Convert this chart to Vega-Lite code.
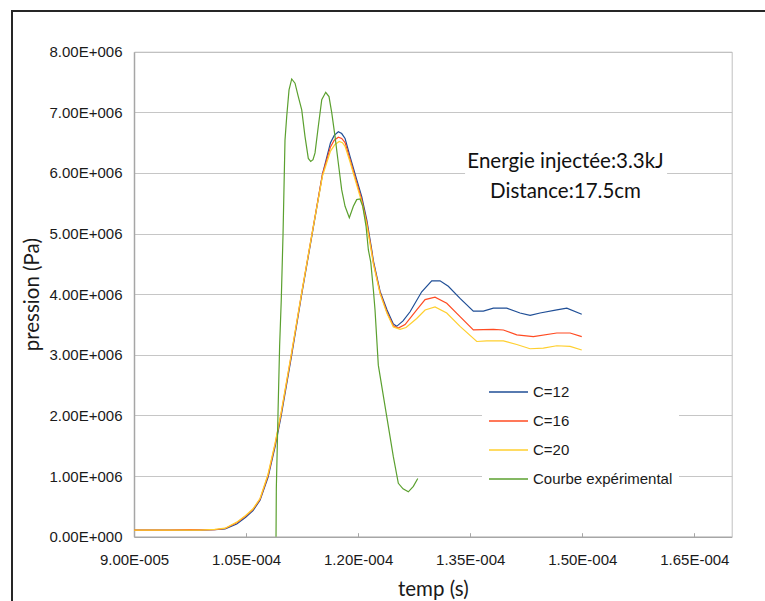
{
  "$schema": "https://vega.github.io/schema/vega-lite/v6.json",
  "width": 755,
  "height": 592,
  "autosize": {"type": "none"},
  "padding": {"left": 12, "top": 11, "right": -2, "bottom": -2},
  "background": "white",
  "config": {
    "view": {"stroke": "#262626", "strokeWidth": 2},
    "axis": {
      "labelFont": "Liberation Sans",
      "labelFontSize": 15,
      "labelColor": "#1a1a1a",
      "titleFont": "Lato",
      "titleFontSize": 20.5,
      "titleFontWeight": "normal",
      "titleColor": "#1a1a1a"
    },
    "legend": {
      "orient": "none",
      "legendX": 470,
      "legendY": 354.5,
      "fillColor": "white",
      "padding": 6,
      "symbolType": "stroke",
      "symbolSize": 1521,
      "symbolStrokeWidth": 1.5,
      "labelFont": "Liberation Sans",
      "labelFontSize": 15,
      "labelColor": "#1a1a1a",
      "labelOffset": 4,
      "labelLimit": 300,
      "rowPadding": -11.3
    }
  },
  "datasets": {
    "curves": [
      {"serie": "C=12", "temps": 9.0e-5, "pression": 110000},
      {"serie": "C=12", "temps": 9.48e-5, "pression": 110000},
      {"serie": "C=12", "temps": 9.88e-5, "pression": 110000},
      {"serie": "C=12", "temps": 1.008e-4, "pression": 115000},
      {"serie": "C=12", "temps": 1.022e-4, "pression": 130000},
      {"serie": "C=12", "temps": 1.0375e-4, "pression": 210000},
      {"serie": "C=12", "temps": 1.0495e-4, "pression": 320000},
      {"serie": "C=12", "temps": 1.0593e-4, "pression": 430000},
      {"serie": "C=12", "temps": 1.0687e-4, "pression": 600000},
      {"serie": "C=12", "temps": 1.0794e-4, "pression": 980000},
      {"serie": "C=12", "temps": 1.0888e-4, "pression": 1480000},
      {"serie": "C=12", "temps": 1.0968e-4, "pression": 1980000},
      {"serie": "C=12", "temps": 1.1108e-4, "pression": 2980000},
      {"serie": "C=12", "temps": 1.1242e-4, "pression": 3980000},
      {"serie": "C=12", "temps": 1.1383e-4, "pression": 4980000},
      {"serie": "C=12", "temps": 1.1523e-4, "pression": 5980000},
      {"serie": "C=12", "temps": 1.163e-4, "pression": 6500000},
      {"serie": "C=12", "temps": 1.168e-4, "pression": 6620000},
      {"serie": "C=12", "temps": 1.1735e-4, "pression": 6680000},
      {"serie": "C=12", "temps": 1.178e-4, "pression": 6650000},
      {"serie": "C=12", "temps": 1.1825e-4, "pression": 6570000},
      {"serie": "C=12", "temps": 1.1892e-4, "pression": 6270000},
      {"serie": "C=12", "temps": 1.1981e-4, "pression": 5890000},
      {"serie": "C=12", "temps": 1.2048e-4, "pression": 5610000},
      {"serie": "C=12", "temps": 1.2115e-4, "pression": 5230000},
      {"serie": "C=12", "temps": 1.2182e-4, "pression": 4730000},
      {"serie": "C=12", "temps": 1.2204e-4, "pression": 4550000},
      {"serie": "C=12", "temps": 1.2293e-4, "pression": 4050000},
      {"serie": "C=12", "temps": 1.2387e-4, "pression": 3740000},
      {"serie": "C=12", "temps": 1.2471e-4, "pression": 3510000},
      {"serie": "C=12", "temps": 1.2516e-4, "pression": 3470000},
      {"serie": "C=12", "temps": 1.2601e-4, "pression": 3560000},
      {"serie": "C=12", "temps": 1.2695e-4, "pression": 3710000},
      {"serie": "C=12", "temps": 1.2851e-4, "pression": 4040000},
      {"serie": "C=12", "temps": 1.2985e-4, "pression": 4220000},
      {"serie": "C=12", "temps": 1.3096e-4, "pression": 4220000},
      {"serie": "C=12", "temps": 1.3207e-4, "pression": 4130000},
      {"serie": "C=12", "temps": 1.3364e-4, "pression": 3930000},
      {"serie": "C=12", "temps": 1.3542e-4, "pression": 3720000},
      {"serie": "C=12", "temps": 1.3676e-4, "pression": 3720000},
      {"serie": "C=12", "temps": 1.381e-4, "pression": 3770000},
      {"serie": "C=12", "temps": 1.3989e-4, "pression": 3770000},
      {"serie": "C=12", "temps": 1.4167e-4, "pression": 3690000},
      {"serie": "C=12", "temps": 1.4301e-4, "pression": 3650000},
      {"serie": "C=12", "temps": 1.4435e-4, "pression": 3690000},
      {"serie": "C=12", "temps": 1.4659e-4, "pression": 3740000},
      {"serie": "C=12", "temps": 1.4793e-4, "pression": 3770000},
      {"serie": "C=12", "temps": 1.4993e-4, "pression": 3670000},

      {"serie": "C=16", "temps": 9.0e-5, "pression": 110000},
      {"serie": "C=16", "temps": 9.48e-5, "pression": 110000},
      {"serie": "C=16", "temps": 9.75e-5, "pression": 118000},
      {"serie": "C=16", "temps": 9.88e-5, "pression": 112000},
      {"serie": "C=16", "temps": 1.008e-4, "pression": 115000},
      {"serie": "C=16", "temps": 1.022e-4, "pression": 135000},
      {"serie": "C=16", "temps": 1.0375e-4, "pression": 230000},
      {"serie": "C=16", "temps": 1.0495e-4, "pression": 340000},
      {"serie": "C=16", "temps": 1.0593e-4, "pression": 450000},
      {"serie": "C=16", "temps": 1.0687e-4, "pression": 620000},
      {"serie": "C=16", "temps": 1.0794e-4, "pression": 1010000},
      {"serie": "C=16", "temps": 1.0888e-4, "pression": 1520000},
      {"serie": "C=16", "temps": 1.0968e-4, "pression": 2020000},
      {"serie": "C=16", "temps": 1.1108e-4, "pression": 3010000},
      {"serie": "C=16", "temps": 1.1242e-4, "pression": 4000000},
      {"serie": "C=16", "temps": 1.1383e-4, "pression": 5000000},
      {"serie": "C=16", "temps": 1.1523e-4, "pression": 5980000},
      {"serie": "C=16", "temps": 1.163e-4, "pression": 6430000},
      {"serie": "C=16", "temps": 1.168e-4, "pression": 6540000},
      {"serie": "C=16", "temps": 1.1735e-4, "pression": 6590000},
      {"serie": "C=16", "temps": 1.178e-4, "pression": 6570000},
      {"serie": "C=16", "temps": 1.1825e-4, "pression": 6500000},
      {"serie": "C=16", "temps": 1.1892e-4, "pression": 6220000},
      {"serie": "C=16", "temps": 1.1981e-4, "pression": 5840000},
      {"serie": "C=16", "temps": 1.2048e-4, "pression": 5560000},
      {"serie": "C=16", "temps": 1.2115e-4, "pression": 5190000},
      {"serie": "C=16", "temps": 1.2182e-4, "pression": 4700000},
      {"serie": "C=16", "temps": 1.2204e-4, "pression": 4520000},
      {"serie": "C=16", "temps": 1.2293e-4, "pression": 4030000},
      {"serie": "C=16", "temps": 1.2387e-4, "pression": 3700000},
      {"serie": "C=16", "temps": 1.2471e-4, "pression": 3480000},
      {"serie": "C=16", "temps": 1.2538e-4, "pression": 3440000},
      {"serie": "C=16", "temps": 1.2628e-4, "pression": 3500000},
      {"serie": "C=16", "temps": 1.2784e-4, "pression": 3740000},
      {"serie": "C=16", "temps": 1.2896e-4, "pression": 3910000},
      {"serie": "C=16", "temps": 1.3029e-4, "pression": 3950000},
      {"serie": "C=16", "temps": 1.3186e-4, "pression": 3850000},
      {"serie": "C=16", "temps": 1.3364e-4, "pression": 3630000},
      {"serie": "C=16", "temps": 1.3542e-4, "pression": 3410000},
      {"serie": "C=16", "temps": 1.381e-4, "pression": 3420000},
      {"serie": "C=16", "temps": 1.3944e-4, "pression": 3410000},
      {"serie": "C=16", "temps": 1.4123e-4, "pression": 3330000},
      {"serie": "C=16", "temps": 1.4345e-4, "pression": 3300000},
      {"serie": "C=16", "temps": 1.4659e-4, "pression": 3360000},
      {"serie": "C=16", "temps": 1.4837e-4, "pression": 3360000},
      {"serie": "C=16", "temps": 1.4993e-4, "pression": 3300000},

      {"serie": "C=20", "temps": 9.0e-5, "pression": 110000},
      {"serie": "C=20", "temps": 9.48e-5, "pression": 110000},
      {"serie": "C=20", "temps": 9.88e-5, "pression": 110000},
      {"serie": "C=20", "temps": 1.008e-4, "pression": 120000},
      {"serie": "C=20", "temps": 1.022e-4, "pression": 140000},
      {"serie": "C=20", "temps": 1.0375e-4, "pression": 240000},
      {"serie": "C=20", "temps": 1.0495e-4, "pression": 350000},
      {"serie": "C=20", "temps": 1.0593e-4, "pression": 460000},
      {"serie": "C=20", "temps": 1.0687e-4, "pression": 630000},
      {"serie": "C=20", "temps": 1.0794e-4, "pression": 1030000},
      {"serie": "C=20", "temps": 1.0888e-4, "pression": 1540000},
      {"serie": "C=20", "temps": 1.0968e-4, "pression": 2040000},
      {"serie": "C=20", "temps": 1.1108e-4, "pression": 3030000},
      {"serie": "C=20", "temps": 1.1242e-4, "pression": 4010000},
      {"serie": "C=20", "temps": 1.1383e-4, "pression": 5000000},
      {"serie": "C=20", "temps": 1.1523e-4, "pression": 5950000},
      {"serie": "C=20", "temps": 1.163e-4, "pression": 6360000},
      {"serie": "C=20", "temps": 1.169e-4, "pression": 6470000},
      {"serie": "C=20", "temps": 1.1747e-4, "pression": 6520000},
      {"serie": "C=20", "temps": 1.179e-4, "pression": 6500000},
      {"serie": "C=20", "temps": 1.1825e-4, "pression": 6440000},
      {"serie": "C=20", "temps": 1.1892e-4, "pression": 6180000},
      {"serie": "C=20", "temps": 1.1981e-4, "pression": 5800000},
      {"serie": "C=20", "temps": 1.2048e-4, "pression": 5520000},
      {"serie": "C=20", "temps": 1.2115e-4, "pression": 5150000},
      {"serie": "C=20", "temps": 1.2182e-4, "pression": 4670000},
      {"serie": "C=20", "temps": 1.2204e-4, "pression": 4500000},
      {"serie": "C=20", "temps": 1.2293e-4, "pression": 4010000},
      {"serie": "C=20", "temps": 1.2387e-4, "pression": 3680000},
      {"serie": "C=20", "temps": 1.2471e-4, "pression": 3460000},
      {"serie": "C=20", "temps": 1.2561e-4, "pression": 3420000},
      {"serie": "C=20", "temps": 1.2641e-4, "pression": 3450000},
      {"serie": "C=20", "temps": 1.2784e-4, "pression": 3600000},
      {"serie": "C=20", "temps": 1.2896e-4, "pression": 3740000},
      {"serie": "C=20", "temps": 1.3029e-4, "pression": 3790000},
      {"serie": "C=20", "temps": 1.3186e-4, "pression": 3690000},
      {"serie": "C=20", "temps": 1.3364e-4, "pression": 3470000},
      {"serie": "C=20", "temps": 1.3588e-4, "pression": 3220000},
      {"serie": "C=20", "temps": 1.3722e-4, "pression": 3230000},
      {"serie": "C=20", "temps": 1.3944e-4, "pression": 3230000},
      {"serie": "C=20", "temps": 1.4123e-4, "pression": 3170000},
      {"serie": "C=20", "temps": 1.4301e-4, "pression": 3100000},
      {"serie": "C=20", "temps": 1.4479e-4, "pression": 3110000},
      {"serie": "C=20", "temps": 1.4659e-4, "pression": 3150000},
      {"serie": "C=20", "temps": 1.4837e-4, "pression": 3140000},
      {"serie": "C=20", "temps": 1.4993e-4, "pression": 3080000},

      {"serie": "Courbe expérimental", "temps": 1.0901e-4, "pression": 0},
      {"serie": "Courbe expérimental", "temps": 1.0905e-4, "pression": 800000},
      {"serie": "Courbe expérimental", "temps": 1.0928e-4, "pression": 2060000},
      {"serie": "Courbe expérimental", "temps": 1.0949e-4, "pression": 3140000},
      {"serie": "Courbe expérimental", "temps": 1.0971e-4, "pression": 3900000},
      {"serie": "Courbe expérimental", "temps": 1.0995e-4, "pression": 5000000},
      {"serie": "Courbe expérimental", "temps": 1.1021e-4, "pression": 6540000},
      {"serie": "Courbe expérimental", "temps": 1.1044e-4, "pression": 6930000},
      {"serie": "Courbe expérimental", "temps": 1.1075e-4, "pression": 7370000},
      {"serie": "Courbe expérimental", "temps": 1.1111e-4, "pression": 7550000},
      {"serie": "Courbe expérimental", "temps": 1.1155e-4, "pression": 7480000},
      {"serie": "Courbe expérimental", "temps": 1.1199e-4, "pression": 7260000},
      {"serie": "Courbe expérimental", "temps": 1.1245e-4, "pression": 7040000},
      {"serie": "Courbe expérimental", "temps": 1.1289e-4, "pression": 6600000},
      {"serie": "Courbe expérimental", "temps": 1.1333e-4, "pression": 6240000},
      {"serie": "Courbe expérimental", "temps": 1.1365e-4, "pression": 6190000},
      {"serie": "Courbe expérimental", "temps": 1.1396e-4, "pression": 6220000},
      {"serie": "Courbe expérimental", "temps": 1.1423e-4, "pression": 6330000},
      {"serie": "Courbe expérimental", "temps": 1.1467e-4, "pression": 6770000},
      {"serie": "Courbe expérimental", "temps": 1.1513e-4, "pression": 7210000},
      {"serie": "Courbe expérimental", "temps": 1.1566e-4, "pression": 7330000},
      {"serie": "Courbe expérimental", "temps": 1.161e-4, "pression": 7260000},
      {"serie": "Courbe expérimental", "temps": 1.1647e-4, "pression": 6990000},
      {"serie": "Courbe expérimental", "temps": 1.1691e-4, "pression": 6600000},
      {"serie": "Courbe expérimental", "temps": 1.1735e-4, "pression": 6160000},
      {"serie": "Courbe expérimental", "temps": 1.178e-4, "pression": 5720000},
      {"serie": "Courbe expérimental", "temps": 1.1825e-4, "pression": 5450000},
      {"serie": "Courbe expérimental", "temps": 1.1882e-4, "pression": 5260000},
      {"serie": "Courbe expérimental", "temps": 1.1936e-4, "pression": 5450000},
      {"serie": "Courbe expérimental", "temps": 1.1981e-4, "pression": 5560000},
      {"serie": "Courbe expérimental", "temps": 1.2025e-4, "pression": 5570000},
      {"serie": "Courbe expérimental", "temps": 1.2062e-4, "pression": 5450000},
      {"serie": "Courbe expérimental", "temps": 1.2106e-4, "pression": 5120000},
      {"serie": "Courbe expérimental", "temps": 1.2137e-4, "pression": 4730000},
      {"serie": "Courbe expérimental", "temps": 1.2169e-4, "pression": 4530000},
      {"serie": "Courbe expérimental", "temps": 1.2204e-4, "pression": 4070000},
      {"serie": "Courbe expérimental", "temps": 1.2226e-4, "pression": 3740000},
      {"serie": "Courbe expérimental", "temps": 1.227e-4, "pression": 2830000},
      {"serie": "Courbe expérimental", "temps": 1.2383e-4, "pression": 1980000},
      {"serie": "Courbe expérimental", "temps": 1.2471e-4, "pression": 1320000},
      {"serie": "Courbe expérimental", "temps": 1.2538e-4, "pression": 880000},
      {"serie": "Courbe expérimental", "temps": 1.2601e-4, "pression": 790000},
      {"serie": "Courbe expérimental", "temps": 1.2672e-4, "pression": 740000},
      {"serie": "Courbe expérimental", "temps": 1.2739e-4, "pression": 830000},
      {"serie": "Courbe expérimental", "temps": 1.2798e-4, "pression": 960000}
    ],
    "note": [
      {"texte": "Energie injectée:3.3kJ\nDistance:17.5cm"}
    ]
  },
  "resolve": {"axis": {"x": "independent", "y": "independent"}},
  "layer": [
    {
      "data": {"name": "note"},
      "mark": {"type": "rect", "fill": "white"},
      "encoding": {
        "x": {
          "datum": 1.3431e-4, "type": "quantitative",
          "scale": {"domain": [0.00009, 0.00017], "range": [122, 719.7], "nice": false, "zero": false},
          "axis": {"orient": "top", "offset": -40.7, "domainColor": "#c0c0c0", "domainWidth": 1, "labels": false, "ticks": false, "grid": false, "title": null}
        },
        "x2": {"datum": 1.6135e-4},
        "y": {
          "datum": 6380000, "type": "quantitative",
          "scale": {"domain": [0, 8000000], "range": [525.7, 40.7], "nice": false, "zero": true},
          "axis": {"orient": "right", "offset": -35.3, "domainColor": "#c0c0c0", "domainWidth": 1, "labels": false, "ticks": false, "grid": false, "title": null}
        },
        "y2": {"datum": 5480000}
      }
    },
    {
      "data": {"name": "curves"},
      "mark": {"type": "line", "strokeWidth": 1.2},
      "encoding": {
        "x": {
          "field": "temps", "type": "quantitative",
          "scale": {"domain": [0.00009, 0.00017], "range": [122, 719.7], "nice": false, "zero": false},
          "axis": {
            "orient": "bottom", "offset": -66.3, "title": "temp (s)",
            "values": [0.00009, 0.000105, 0.00012, 0.000135, 0.00015, 0.000165],
            "labelExpr": "datum.value < 0.0000995 ? format(datum.value * 100000, '.2f') + 'E-005' : format(datum.value * 10000, '.2f') + 'E-004'",
            "labelFlush": false, "labelOverlap": false,
            "domainColor": "#a6a6a6", "domainWidth": 1.5,
            "tickColor": "#a6a6a6", "tickSize": -4, "tickWidth": 1,
            "labelPadding": 20, "grid": false, "titlePadding": 12
          }
        },
        "y": {
          "field": "pression", "type": "quantitative",
          "scale": {"domain": [0, 8000000], "range": [525.7, 40.7], "nice": false, "zero": true},
          "axis": {
            "orient": "left", "offset": -122, "title": "pression (Pa)",
            "values": [0, 1000000, 2000000, 3000000, 4000000, 5000000, 6000000, 7000000, 8000000],
            "labelExpr": "datum.value == 0 ? '0.00E+000' : format(datum.value / 1000000, '.2f') + 'E+006'",
            "ticks": false, "labelPadding": 12,
            "domainColor": "#a6a6a6", "domainWidth": 1.5,
            "grid": true, "gridColor": "#c6c6c6", "gridWidth": 1,
            "titlePadding": 7
          }
        },
        "color": {
          "field": "serie", "type": "nominal",
          "scale": {"domain": ["C=12", "C=16", "C=20", "Courbe expérimental"], "range": ["#1F4E96", "#FF4B22", "#FFCF2E", "#5BA02F"]},
          "legend": {"title": null}
        }
      }
    },
    {
      "data": {"name": "note"},
      "mark": {"type": "text", "font": "Lato", "fontSize": 20.5, "color": "#111111", "align": "center", "baseline": "alphabetic", "lineBreak": "\n", "lineHeight": 30},
      "encoding": {
        "text": {"field": "texte", "type": "nominal"},
        "x": {"datum": 1.4776e-4, "type": "quantitative", "scale": {"domain": [0.00009, 0.00017], "range": [122, 719.7], "nice": false, "zero": false}, "axis": null},
        "y": {"datum": 6079000, "type": "quantitative", "scale": {"domain": [0, 8000000], "range": [525.7, 40.7], "nice": false, "zero": true}, "axis": null}
      }
    }
  ]
}
